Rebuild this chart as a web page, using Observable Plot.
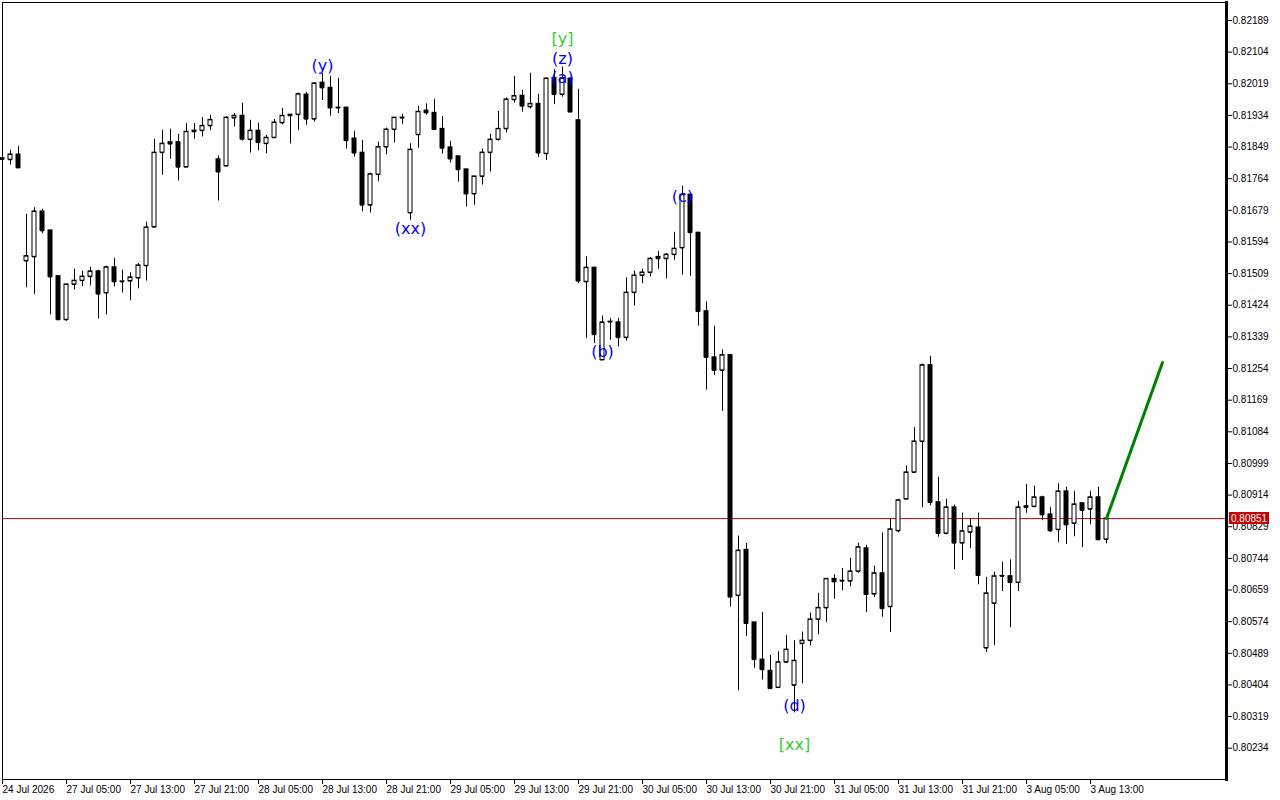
<!DOCTYPE html>
<html><head><meta charset="utf-8">
<script src="https://cdn.jsdelivr.net/npm/d3@7"></script>
<script src="https://cdn.jsdelivr.net/npm/@observablehq/plot@0.6"></script>
<style>
html,body{margin:0;padding:0;background:#fff;}
#chart svg{display:block;}
</style></head><body><div id="chart"></div>
<script>
// H1 bars, bar 0 = 24 Jul 2026 21:00
const open = [0.81819,0.81815,0.81829,0.81543,0.81554,0.81676,0.81625,0.81502,0.81385,0.81480,
0.81490,0.81501,0.81515,0.81457,0.81526,0.81487,0.81489,0.81497,0.81530,0.81634,
0.81834,0.81862,0.81862,0.81795,0.81890,0.81893,0.81906,0.81816,0.81798,0.81927,
0.81933,0.81869,0.81893,0.81858,0.81874,0.81914,0.81936,0.81936,0.81990,0.81924,
0.82022,0.82008,0.81954,0.81955,0.81872,0.81834,0.81693,0.81775,0.81849,0.81896,
0.81927,0.81672,0.81882,0.81947,0.81941,0.81898,0.81848,0.81824,0.81789,0.81723,
0.81770,0.81834,0.81869,0.81898,0.81976,0.81987,0.81957,0.81965,0.81831,0.82035,
0.81990,0.82033,0.81921,0.81487,0.81525,0.81277,0.81379,0.81378,0.81337,0.81458,
0.81504,0.81512,0.81554,0.81549,0.81560,0.81578,0.81721,0.81619,0.81408,0.81284,
0.81249,0.81290,0.80644,0.80767,0.80572,0.80472,0.80442,0.80397,0.80465,0.80403,
0.80515,0.80523,0.80580,0.80611,0.80689,0.80683,0.80683,0.80709,0.80771,0.80648,
0.80704,0.80614,0.80818,0.80903,0.80975,0.81058,0.81263,0.80895,0.80811,0.80881,
0.80785,0.80814,0.80827,0.80503,0.80623,0.80697,0.80696,0.80679,0.80884,0.80883,
0.80908,0.80862,0.80821,0.80924,0.80838,0.80892,0.80876,0.80908,0.80795];
const high = [0.81824,0.81840,0.81851,0.81668,0.81686,0.81682,0.81625,0.81502,0.81480,0.81521,
0.81515,0.81526,0.81518,0.81529,0.81550,0.81518,0.81511,0.81536,0.81647,0.81870,
0.81894,0.81897,0.81883,0.81912,0.81912,0.81928,0.81934,0.81825,0.81931,0.81939,
0.81967,0.81921,0.81913,0.81880,0.81923,0.81953,0.81936,0.81994,0.81996,0.82022,
0.82046,0.82039,0.82033,0.81955,0.81891,0.81867,0.81779,0.81862,0.81900,0.81928,
0.81937,0.81858,0.81958,0.81965,0.81977,0.81931,0.81864,0.81824,0.81789,0.81770,
0.81844,0.81883,0.81945,0.81981,0.82039,0.82001,0.82047,0.81990,0.82035,0.82057,
0.82064,0.82036,0.82004,0.81554,0.81525,0.81395,0.81388,0.81388,0.81498,0.81516,
0.81521,0.81552,0.81569,0.81563,0.81620,0.81744,0.81721,0.81619,0.81433,0.81367,
0.81304,0.81290,0.80804,0.80784,0.80572,0.80599,0.80483,0.80493,0.80537,0.80523,
0.80546,0.80597,0.80650,0.80689,0.80700,0.80717,0.80744,0.80785,0.80779,0.80723,
0.80812,0.80850,0.80903,0.80992,0.81096,0.81266,0.81287,0.80962,0.80903,0.80887,
0.80866,0.80851,0.80866,0.80693,0.80707,0.80734,0.80740,0.80897,0.80943,0.80938,
0.80911,0.80881,0.80944,0.80935,0.80924,0.80892,0.80924,0.80935,0.80851];
const low = [0.81813,0.81801,0.81793,0.81471,0.81453,0.81616,0.81398,0.81384,0.81381,0.81465,
0.81474,0.81476,0.81387,0.81398,0.81473,0.81457,0.81436,0.81468,0.81489,0.81632,
0.81773,0.81816,0.81758,0.81795,0.81870,0.81876,0.81894,0.81704,0.81798,0.81903,
0.81865,0.81833,0.81839,0.81831,0.81874,0.81909,0.81857,0.81894,0.81908,0.81916,
0.81974,0.81932,0.81939,0.81844,0.81822,0.81675,0.81672,0.81756,0.81828,0.81860,
0.81910,0.81652,0.81846,0.81934,0.81896,0.81830,0.81806,0.81755,0.81688,0.81693,
0.81747,0.81782,0.81865,0.81887,0.81967,0.81943,0.81952,0.81821,0.81813,0.81963,
0.81983,0.81943,0.81482,0.81335,0.81321,0.81277,0.81330,0.81312,0.81328,0.81422,
0.81482,0.81500,0.81521,0.81495,0.81545,0.81505,0.81502,0.81368,0.81196,0.81235,
0.81139,0.80613,0.80389,0.80534,0.80449,0.80417,0.80394,0.80395,0.80462,0.80329,
0.80407,0.80509,0.80539,0.80572,0.80634,0.80657,0.80668,0.80704,0.80598,0.80639,
0.80586,0.80545,0.80813,0.80903,0.80972,0.80880,0.80885,0.80801,0.80807,0.80714,
0.80738,0.80770,0.80673,0.80491,0.80510,0.80655,0.80558,0.80655,0.80865,0.80880,
0.80845,0.80814,0.80786,0.80781,0.80802,0.80773,0.80834,0.80794,0.80783];
const close = [0.81816,0.81829,0.81793,0.81556,0.81676,0.81624,0.81500,0.81385,0.81480,0.81490,
0.81501,0.81515,0.81454,0.81526,0.81487,0.81488,0.81499,0.81531,0.81633,0.81834,
0.81858,0.81857,0.81795,0.81890,0.81893,0.81906,0.81922,0.81782,0.81928,0.81933,
0.81870,0.81893,0.81861,0.81874,0.81915,0.81933,0.81933,0.81991,0.81924,0.82020,
0.82008,0.81954,0.81955,0.81866,0.81833,0.81693,0.81776,0.81849,0.81896,0.81928,
0.81928,0.81842,0.81944,0.81941,0.81896,0.81846,0.81817,0.81788,0.81723,0.81770,
0.81834,0.81869,0.81898,0.81977,0.81986,0.81959,0.81965,0.81833,0.82033,0.81990,
0.82033,0.81943,0.81489,0.81525,0.81345,0.81378,0.81380,0.81337,0.81458,0.81504,
0.81512,0.81549,0.81549,0.81560,0.81576,0.81721,0.81619,0.81407,0.81284,0.81249,
0.81290,0.80640,0.80765,0.80569,0.80472,0.80445,0.80394,0.80465,0.80499,0.80469,
0.80523,0.80580,0.80611,0.80689,0.80681,0.80684,0.80709,0.80774,0.80647,0.80704,
0.80609,0.80822,0.80900,0.80975,0.81058,0.81263,0.80894,0.80811,0.80881,0.80785,
0.80817,0.80830,0.80698,0.80650,0.80696,0.80696,0.80679,0.80881,0.80881,0.80908,
0.80861,0.80818,0.80924,0.80834,0.80889,0.80873,0.80908,0.80794,0.80851];

const xTickBars = [0,8,16,24,32,40,48,56,64,72,80,88,96,104,112,120,128,136];
const xTickLabels = ["24 Jul 2026","27 Jul 05:00","27 Jul 13:00","27 Jul 21:00","28 Jul 05:00","28 Jul 13:00",
"28 Jul 21:00","29 Jul 05:00","29 Jul 13:00","29 Jul 21:00","30 Jul 05:00","30 Jul 13:00","30 Jul 21:00",
"31 Jul 05:00","31 Jul 13:00","31 Jul 21:00","3 Aug 05:00","3 Aug 13:00"];
const yTicks = [0.82189,0.82104,0.82019,0.81934,0.81849,0.81764,0.81679,0.81594,0.81509,0.81424,0.81339,0.81254,
0.81169,0.81084,0.80999,0.80914,0.80829,0.80744,0.80659,0.80574,0.80489,0.80404,0.80319,0.80234];

const currentPrice = 0.80851;
const projBars = [138, 145];
const projPrices = [0.80851, 0.81270];

const waveText   = ["(y)","(xx)","[y]","(z)","(a)","(b)","(c)","(d)","[xx]"];
const waveBar    = [40, 51, 70, 70, 70, 75, 85, 99, 99];
const wavePrice  = [0.82068,0.81630,0.82139,0.82085,0.82036,0.81298,0.81716,0.80349,0.80244];
const waveDegree = ["minor","minor","major","minor","minor","minor","minor","minor","major"];

const candles = open.map((o, i) => ({i, open: o, high: high[i], low: low[i], close: close[i]}));
const projection = projBars.map((b, k) => ({bar: b, price: projPrices[k]}));
const waves = waveText.map((t, k) => ({text: t, bar: waveBar[k], price: wavePrice[k], degree: waveDegree[k]}));
const degreeColor = {minor: "#0000ff", major: "#32cd32"};
const halfBody = 0.25;

const chart = Plot.plot({
  width: 1280, height: 800,
  marginLeft: 2, marginRight: 54, marginTop: 2, marginBottom: 21,
  style: {fontFamily: "'Liberation Sans', Arial, sans-serif", fontSize: "10px", background: "white", color: "black", overflow: "visible"},
  x: {domain: [0, 153], axis: null},
  y: {domain: [0.80150, 0.822373], axis: null},
  color: {type: "identity"},
  marks: [
    Plot.ruleY([currentPrice], {stroke: "#e00000", strokeWidth: 1}),
    Plot.ruleX(candles, {x: "i", y1: "low", y2: "high", stroke: "black", strokeWidth: 1}),
    Plot.rect(candles, {x1: d => d.i - halfBody, x2: d => d.i + halfBody, y1: "open", y2: "close",
      fill: d => d.close >= d.open ? "white" : "black", stroke: "black", strokeWidth: 1}),
    Plot.ruleY(candles, {y: "open", x1: d => d.i - halfBody, x2: d => d.i + halfBody, stroke: "black"}),
    Plot.ruleY(candles, {y: "close", x1: d => d.i - halfBody, x2: d => d.i + halfBody, stroke: "black"}),
    Plot.line(projection, {x: "bar", y: "price", stroke: "#008000", strokeWidth: 3}),
    Plot.text(waves, {x: "bar", y: "price", text: "text", fill: d => degreeColor[d.degree],
      fontSize: 16, fontFamily: "'DejaVu Sans', sans-serif"}),
    Plot.axisX({ticks: xTickBars, tickFormat: d => xTickLabels[xTickBars.indexOf(d)],
      textAnchor: "start", tickSize: 5, tickPadding: 1, dx: 0}),
    Plot.axisY({anchor: "right", ticks: yTicks, tickFormat: d => d.toFixed(5), tickSize: 5, tickPadding: 1}),
    Plot.frame({stroke: "black"}),
    Plot.frame({anchor: "right", stroke: "black", strokeWidth: 3})
  ]
});

document.getElementById("chart").appendChild(chart);

// current price tag on the right axis
const yScale = chart.scale("y");
const xScale = chart.scale("x");
const py = yScale.apply(currentPrice);
const px = xScale.range[1];
const svg = d3.select(chart);
const tag = svg.append("g").attr("text-anchor", "start");
tag.append("rect").attr("x", px + 3).attr("y", Math.round(py) - 6).attr("width", 40).attr("height", 12).attr("fill", "#c80000");
tag.append("text").attr("x", px + 5).attr("y", py).attr("dy", "0.36em").attr("fill", "white")
  .attr("text-anchor", "start").attr("font-size", 10).text(currentPrice.toFixed(5));
</script></body></html>
